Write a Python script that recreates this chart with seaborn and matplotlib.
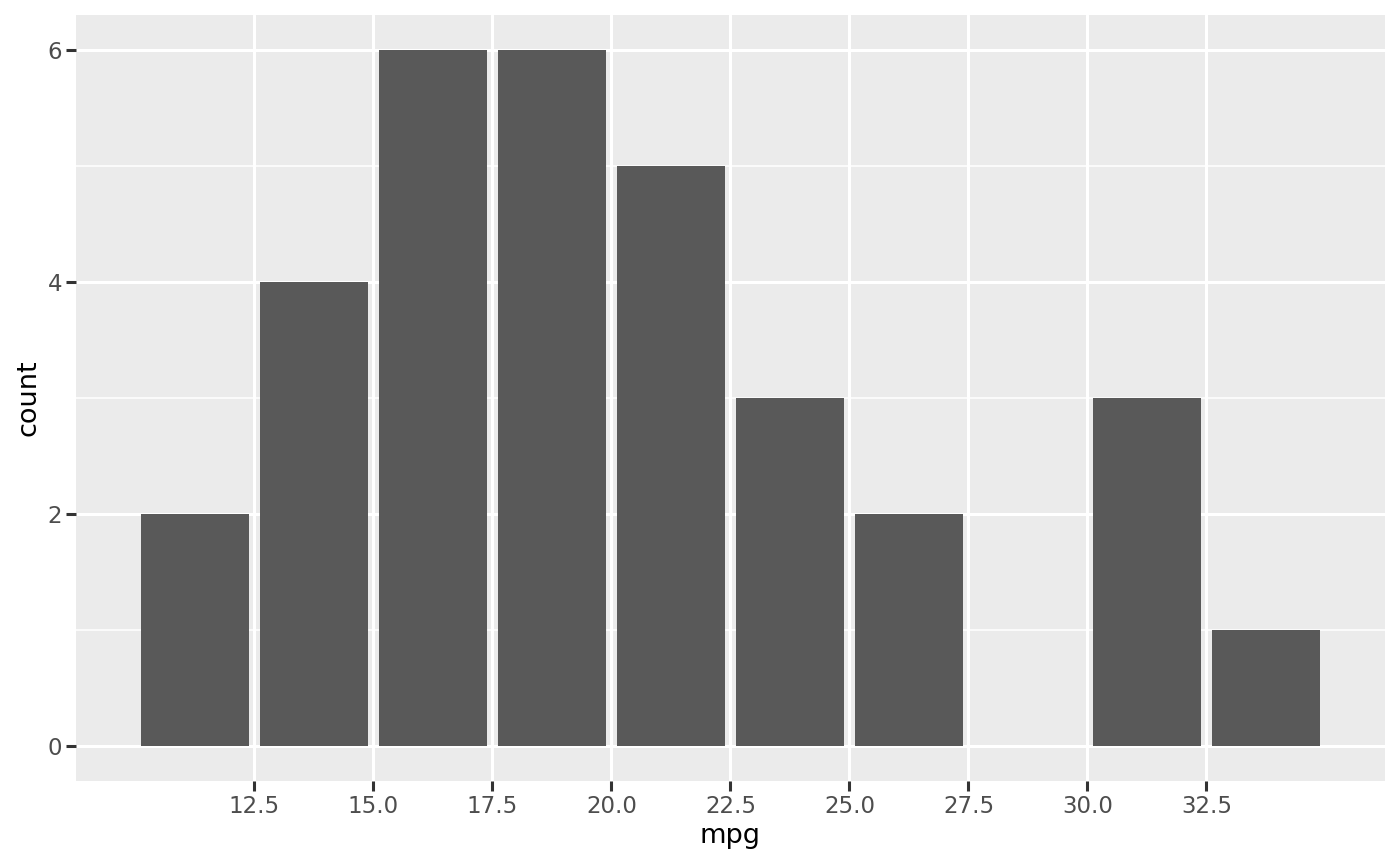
import numpy as np
import seaborn as sns
import matplotlib.pyplot as plt
from matplotlib.ticker import MultipleLocator

# binned mpg counts (bin width 2.5, starting at 10)
bin_centers = [11.25, 13.75, 16.25, 18.75, 21.25, 23.75, 26.25, 28.75, 31.25, 33.75]
counts = [2, 4, 6, 6, 5, 3, 2, 0, 3, 1]
x_ticks = [12.5, 15.0, 17.5, 20.0, 22.5, 25.0, 27.5, 30.0, 32.5]
y_ticks = [0, 2, 4, 6]

sns.set_theme(style='darkgrid', rc={
    'axes.facecolor': '#EBEBEB',
    'grid.color': 'white',
})
plt.rcParams['font.family'] = ['DejaVu Sans']

fig = plt.figure(figsize=(14, 8.66), dpi=100)
ax = fig.add_axes([76 / 1400, 1 - 781 / 866, (1385 - 76) / 1400, (781 - 15) / 866])

sns.histplot(x=bin_centers, weights=counts, binwidth=2.5, binrange=(10, 35),
             shrink=0.9, color='#595959', alpha=1, edgecolor='none',
             linewidth=0, ax=ax, zorder=2)

ax.set_xlim(8.75, 36.25)
ax.set_ylim(-0.3, 6.3)
ax.set_xticks(x_ticks)
ax.set_xticklabels([f'{v:.1f}' for v in x_ticks])
ax.set_yticks(y_ticks)
ax.yaxis.set_minor_locator(MultipleLocator(1))

ax.grid(which='major', color='white', linewidth=2.2)
ax.grid(which='minor', axis='y', color='white', linewidth=1.1)
ax.grid(which='minor', axis='x', visible=False)
ax.set_axisbelow(True)
for s in ax.spines.values():
    s.set_visible(False)

ax.tick_params(axis='both', which='major', length=7, width=2.2, color='#333333',
               labelcolor='#4D4D4D', labelsize=16.5, pad=3, bottom=True, left=True)
ax.tick_params(axis='both', which='minor', length=0)

ax.set_xlabel('mpg', fontsize=19.5, color='black', labelpad=4)
ax.set_ylabel('count', fontsize=19.5, color='black', labelpad=4)

fig.savefig('out.png', dpi=100, facecolor='white')
